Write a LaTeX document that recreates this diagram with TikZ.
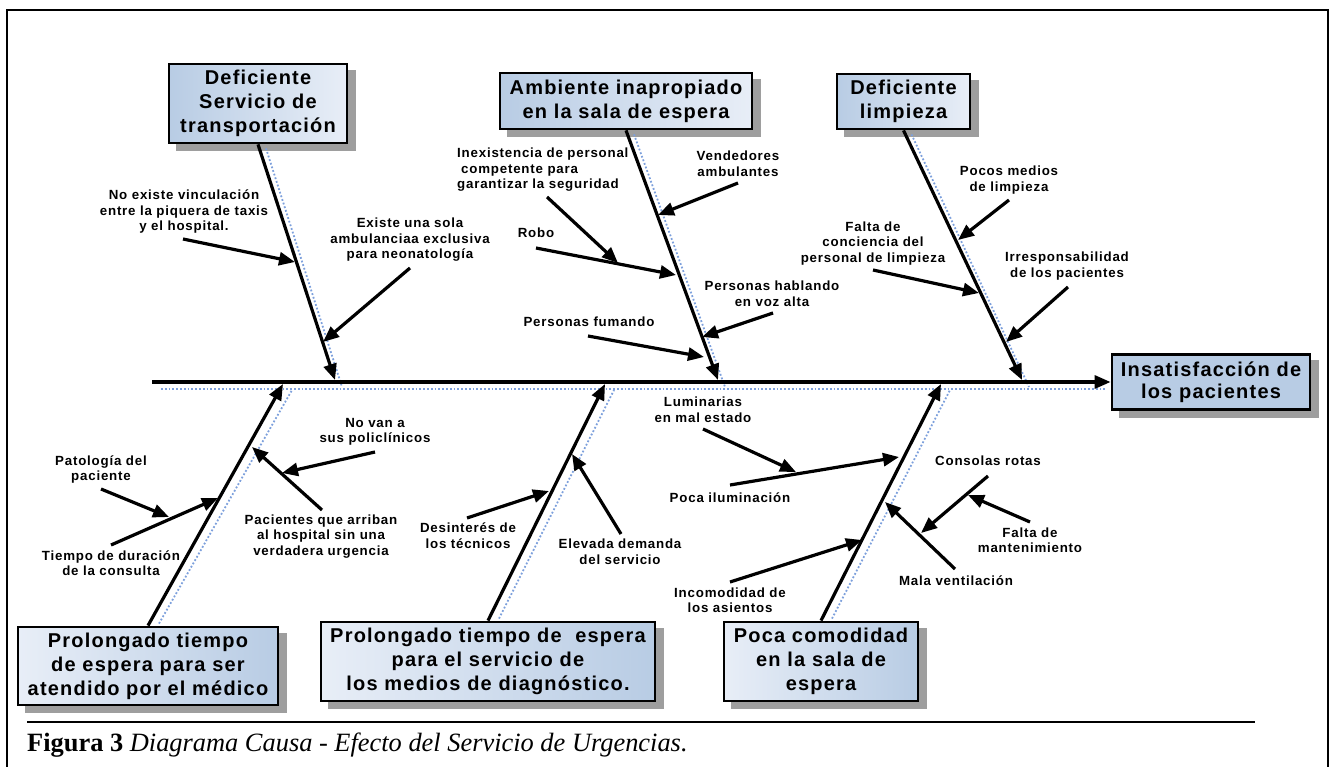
\documentclass[tikz,border=0pt]{standalone}
\usepackage{fontspec}
\setmainfont{Liberation Serif}
\newfontfamily\labfont{Liberation Sans}[LetterSpace=6]
\newfontfamily\boxfont{Liberation Sans}[LetterSpace=6]
\usetikzlibrary{arrows.meta,calc,backgrounds}
\definecolor{boxdark}{RGB}{184,204,228}
\definecolor{boxlight}{RGB}{232,238,247}
\definecolor{shadowblue}{RGB}{125,160,220}
\tikzset{
  box/.style={draw=black, line width=2.8pt, inner sep=0pt, align=center,
    font=\boxfont\bfseries\fontsize{20}{24}\selectfont},
  boxtop/.style={box, left color=boxdark, right color=boxlight},
  boxbot/.style={box, left color=boxlight, right color=boxdark},
  lab/.style={inner sep=0pt, align=center,
    font=\labfont\bfseries\fontsize{13.3}{15.5}\selectfont},
  arr/.style={line width=3.2pt, -{Triangle[length=16pt,width=13pt]}},
  bshadow/.style={shadowblue, line width=1.8pt, dotted},
  boxshadow/.style={fill=black!38},
}
\begin{document}
\begin{tikzpicture}[x=1pt,y=-1pt]
\useasboundingbox (0,0) rectangle (1329,767);
% frame
\coordinate (f1) at (7,767);
\coordinate (f2) at (7,10);
\coordinate (f3) at (1328,10);
\coordinate (f4) at (1328,767);
\draw[line width=1.5pt] (f1) -- (f2) -- (f3) -- (f4);

% boxes
\node[boxtop, minimum width=178pt, minimum height=79pt] (tl) at (258,103.5)
  {Deficiente\\Servicio de\\transportación};
\node[boxtop, minimum width=252pt, minimum height=56pt] (tm) at (626,101)
  {Ambiente inapropiado\\en la sala de espera};
\node[boxtop, minimum width=133pt, minimum height=55pt] (tr) at (903.5,101.5)
  {Deficiente\\limpieza};
\node[box, fill=boxdark, minimum width=198pt, minimum height=55pt,
  font=\boxfont\bfseries\fontsize{20}{22}\selectfont] (eff) at (1211,382)
  {Insatisfacción de\\los pacientes};
\node[boxbot, minimum width=260pt, minimum height=78pt] (bl) at (148,666)
  {Prolongado tiempo\\de espera para ser\\atendido por el médico};
\node[boxbot, minimum width=334pt, minimum height=79pt] (bm) at (488,661.5)
  {Prolongado tiempo de \ espera\\para el servicio de\\los medios de diagnóstico.};
\node[boxbot, minimum width=194pt, minimum height=79pt] (br) at (821,661.5)
  {Poca comodidad\\en la sala de\\espera};

% spine and bone tips
\coordinate (sp0) at (152,382);
\coordinate (t1) at (335,380);
\coordinate (t2) at (718,380);
\coordinate (t3) at (1022,380);
\coordinate (b1) at (283,384);
\coordinate (b2) at (605,384);
\coordinate (b3) at (941,384);

\begin{scope}[on background layer]
  \foreach \b in {tl,tm,tr,eff,bl,bm,br}{
    \fill[boxshadow] ($(\b.south west)+(8,7)$) rectangle ($(\b.north east)+(8,7)$);
  }
  \draw[bshadow] ($(sp0)+(9,7)$) -- ($(eff.west)+(-6,7)$);
  \draw[bshadow] ($(tl.south)+(8,4)$) -- ($(t1)+(7,7)$);
  \draw[bshadow] ($(tm.south)+(8,4)$) -- ($(t2)+(7,7)$);
  \draw[bshadow] ($(tr.south)+(8,4)$) -- ($(t3)+(7,7)$);
  \draw[bshadow] ($(bl.north)+(11,-2)$) -- ($(b1)+(9,6)$);
  \draw[bshadow] ($(bm.north)+(11,-2)$) -- ($(b2)+(9,6)$);
  \draw[bshadow] ($(br.north)+(11,-2)$) -- ($(b3)+(9,6)$);
\end{scope}

\draw[arr] (sp0) -- (eff.west);
\draw[arr] (tl.south) -- (t1);
\draw[arr] (tm.south) -- (t2);
\draw[arr] (tr.south) -- (t3);
\draw[arr] (bl.north) -- (b1);
\draw[arr] (bm.north) -- (b2);
\draw[arr] (br.north) -- (b3);

% labels
\node[lab] (l1) at (184,212) {No existe vinculación\\entre la piquera de taxis\\y el hospital.};
\node[lab] (l2) at (410,240) {Existe una sola\\ambulanciaa exclusiva\\para neonatología};
\node[lab, align=left, anchor=west] (l3) at (457,170) {Inexistencia de personal\\\hspace{4pt}competente para\\garantizar la seguridad};
\node[lab] (l4) at (738,163.5) {Vendedores\\ambulantes};
\node[lab] (l5) at (536,233) {Robo};
\node[lab] (l6) at (772,293.5) {Personas hablando\\en voz alta};
\node[lab] (l7) at (589,322) {Personas fumando};
\node[lab] (l8) at (1009,180) {Pocos medios\\de limpieza};
\node[lab] (l9) at (873,243.5) {Falta de\\conciencia del\\personal de limpieza};
\node[lab] (l10) at (1067,266) {Irresponsabilidad\\de los pacientes};
\node[lab] (l11) at (375,432) {No van a\\sus policlínicos};
\node[lab] (l12) at (101,469.5) {Patología del\\paciente};
\node[lab] (l13) at (321,536.5) {Pacientes que arriban\\al hospital sin una\\verdadera urgencia};
\node[lab] (l14) at (111,563) {Tiempo de duración\\de la consulta};
\node[lab] (l15) at (468,535.5) {Desinterés de\\los técnicos};
\node[lab] (l16) at (620,551.5) {Elevada demanda\\del servicio};
\node[lab] (l17) at (703,409.5) {Luminarias\\en mal estado};
\node[lab] (l18) at (730,498) {Poca iluminación};
\node[lab] (l19) at (730,600) {Incomodidad de\\los asientos};
\node[lab] (l20) at (956,581) {Mala ventilación};
\node[lab] (l21) at (988,461) {Consolas rotas};
\node[lab] (l22) at (1030,540) {Falta de\\mantenimiento};

% sub-arrow coordinates
\coordinate (a1s) at (183,239);  \coordinate (a1e) at (295,262);
\coordinate (a2s) at (410,268);  \coordinate (a2e) at (323,342);
\coordinate (a4s) at (738,183);  \coordinate (a4e) at (658,215);
\coordinate (a5s) at (536,248);  \coordinate (a5e) at (676,275);
\coordinate (a3s) at (547,197);  \coordinate (a3e) at (618,263);
\coordinate (a6s) at (773,313);  \coordinate (a6e) at (702,337);
\coordinate (a7s) at (588,336);  \coordinate (a7e) at (704,357);
\coordinate (a8s) at (1009,200); \coordinate (a8e) at (958,240);
\coordinate (a9s) at (873,270);  \coordinate (a9e) at (979,293);
\coordinate (a10s) at (1068,287); \coordinate (a10e) at (1006,342);
\coordinate (a11s) at (375,452); \coordinate (a11e) at (282,473);
\coordinate (a12s) at (101,489); \coordinate (a12e) at (169,517);
\coordinate (a13s) at (322,510); \coordinate (a13e) at (252,447);
\coordinate (a14s) at (111,545); \coordinate (a14e) at (218,498);
\coordinate (a15s) at (467,518); \coordinate (a15e) at (549,491);
\coordinate (a16s) at (621,534); \coordinate (a16e) at (572,454);
\coordinate (a17s) at (703,429); \coordinate (a17e) at (796,472);
\coordinate (a18s) at (730,485); \coordinate (a18e) at (899,457);
\coordinate (a19s) at (730,582); \coordinate (a19e) at (862,540);
\coordinate (a20s) at (955,569); \coordinate (a20e) at (885,502);
\coordinate (a21s) at (988,476); \coordinate (a21e) at (921,533);
\coordinate (a22s) at (1030,522); \coordinate (a22e) at (968,495);

\foreach \i in {1,...,22}{
  \draw[arr] (a\i s) -- (a\i e);
}

% caption
\coordinate (r0) at (27,722);
\coordinate (r1) at (1255,722);
\draw[line width=1.6pt] (r0) -- (r1);
\node[anchor=base west, inner sep=0pt, font=\fontsize{26.4}{30}\selectfont] (cap) at (27,751)
  {\textbf{Figura 3} \textit{Diagrama Causa - Efecto del Servicio de Urgencias.}};
\end{tikzpicture}
\end{document}
